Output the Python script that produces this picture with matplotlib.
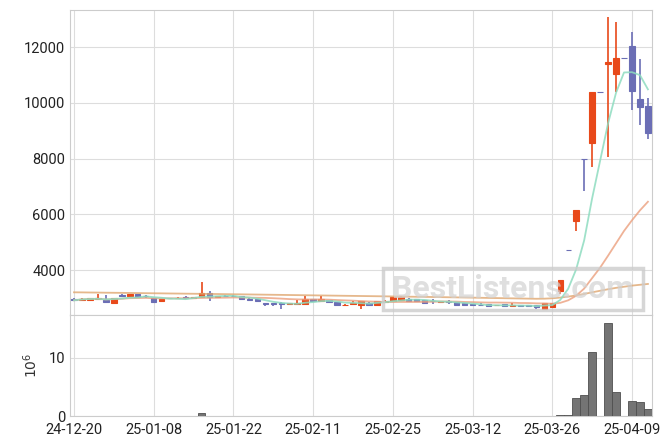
import numpy as np
import pandas as pd
import matplotlib
matplotlib.use("Agg")
from matplotlib import pyplot as plt
from matplotlib.patches import Rectangle

# trading-day labels (every 10th session)
tick_pos = [0, 10, 20, 30, 40, 50, 60, 70]
tick_labels = ["24-12-20", "25-01-08", "25-01-22", "25-02-11",
               "25-02-25", "25-03-12", "25-03-26", "25-04-09"]

opens = [2975, 2915, 2940, 2960, 2925, 2800, 3110, 3050, 3140, 3070,
         2995, 2880, 3000, 2990, 3040, 2995, 3017, 3184, 3020, 3085,
         3085, 3065, 2970, 2945, 2825, 2800, 2800, 2765, 2780, 2777,
         2945, 2900, 2920, 2850, 2745, 2777, 2729, 2825, 2729, 2845,
         2873, 2921, 2969, 2945, 2921, 2897, 2845, 2880, 2849, 2800,
         2777, 2760, 2777, 2735, 2777, 2705, 2753, 2753, 2729, 2610,
         2690, 3230, 4730, 5770, 7980, 8550, 10370, 11400, 11050, 11620,
         12025, 10145, 9870]
highs = [2985, 2980, 3000, 3150, 3110, 3010, 3130, 3150, 3150, 3120,
         3000, 2960, 3010, 3020, 3050, 3045, 3580, 3230, 3070, 3100,
         3095, 3080, 2985, 2950, 2830, 2825, 2850, 2800, 2920, 3065,
         2960, 3065, 2935, 2855, 2765, 2875, 2900, 2835, 2880, 2920,
         3030, 3065, 2980, 2955, 2930, 2945, 2880, 2921, 2855, 2805,
         2785, 2800, 2785, 2760, 2785, 2800, 2760, 2760, 2735, 2800,
         2830, 3650, 4730, 6140, 7980, 10370, 10370, 13080, 12900, 11620,
         12540, 11580, 10180]
lows = [2905, 2905, 2930, 2930, 2840, 2790, 3040, 3045, 3020, 3010,
        2840, 2870, 2975, 2980, 2980, 2990, 3010, 2880, 3010, 3040,
        3040, 2960, 2910, 2860, 2705, 2705, 2610, 2755, 2770, 2730,
        2870, 2890, 2835, 2720, 2740, 2730, 2610, 2740, 2720, 2840,
        2860, 2873, 2890, 2870, 2820, 2777, 2840, 2777, 2745, 2725,
        2745, 2705, 2700, 2730, 2700, 2700, 2700, 2700, 2585, 2600,
        2680, 3140, 4730, 5410, 6850, 7710, 10370, 8070, 10380, 11620,
        9750, 9186, 8710]
closes = [2915, 2975, 2990, 2990, 2850, 3000, 3055, 3140, 3030, 3055,
          2845, 2950, 2985, 3010, 2985, 3040, 3184, 3017, 3065, 3050,
          3050, 2970, 2920, 2875, 2765, 2765, 2775, 2800, 2825, 2969,
          2875, 2945, 2840, 2730, 2760, 2825, 2897, 2745, 2873, 2873,
          3017, 3017, 2897, 2873, 2825, 2873, 2873, 2865, 2753, 2729,
          2753, 2750, 2705, 2745, 2705, 2753, 2705, 2705, 2657, 2800,
          2825, 3640, 4730, 6140, 7980, 10370, 10370, 11460, 11620, 11620,
          10420, 9845, 8910]
# volume in millions of shares
volumes = [0.02, 0.02, 0.02, 0.02, 0.02, 0.02, 0.02, 0.02, 0.02, 0.02,
           0.02, 0.02, 0.02, 0.02, 0.02, 0.02, 0.6, 0.05, 0.02, 0.02,
           0.02, 0.02, 0.02, 0.02, 0.02, 0.02, 0.02, 0.02, 0.02, 0.02,
           0.02, 0.02, 0.02, 0.02, 0.02, 0.02, 0.02, 0.02, 0.02, 0.02,
           0.02, 0.02, 0.02, 0.02, 0.02, 0.02, 0.02, 0.02, 0.02, 0.02,
           0.02, 0.02, 0.02, 0.02, 0.02, 0.02, 0.02, 0.02, 0.02, 0.03,
           0.04, 0.12, 0.12, 3.1, 3.6, 10.9, 0.0, 16.0, 4.1, 0.0,
           2.6, 2.4, 1.2]
# long moving average (history before the window)
ma_long = [3200, 3197, 3193, 3190, 3186, 3183, 3180, 3176, 3172, 3168,
           3165, 3162, 3158, 3155, 3151, 3148, 3145, 3141, 3138, 3134,
           3130, 3127, 3123, 3119, 3115, 3111, 3107, 3103, 3099, 3095,
           3091, 3087, 3083, 3079, 3075, 3071, 3067, 3063, 3059, 3055,
           3051, 3047, 3043, 3039, 3035, 3031, 3027, 3022, 3018, 3013,
           3008, 3003, 2998, 2993, 2988, 2983, 2978, 2973, 2968, 2972,
           2985, 3010, 3045, 3090, 3140, 3200, 3255, 3310, 3360, 3400,
           3440, 3470, 3500]

UP = "#e8491a"
DOWN = "#6b6eb5"

df = pd.DataFrame({"o": opens, "h": highs, "l": lows, "c": closes, "v": volumes})
x = np.arange(len(df))
up = df.c > df.o
col = np.where(up, UP, DOWN)
ma5 = df.c.rolling(5, min_periods=1).mean()
ma20 = df.c.rolling(20, min_periods=1).mean()

fig = plt.figure(figsize=(6.7, 4.44), dpi=100)
ax = fig.add_axes([0.1045, 0.2905, 0.8685, 0.687])
axv = fig.add_axes([0.1045, 0.063, 0.8685, 0.2275], sharex=ax)

for a in (ax, axv):
    a.grid(True, color="#dddddd", lw=0.8)
    a.set_axisbelow(True)
    for s in a.spines.values():
        s.set_color("#cccccc")
    a.tick_params(length=0, labelsize=10.5, colors="#222222")
axv.tick_params(axis="x", pad=5)

# candles
ax.vlines(x, df.l, df.h, colors=col, lw=1.2, zorder=2)
body_lo = np.minimum(df.o, df.c)
body_h = np.abs(df.c - df.o)
ax.bar(x, body_h, bottom=body_lo, width=0.68, color=col, edgecolor=col, lw=0.8, zorder=3)

# moving averages
ax.plot(x, ma_long, color="#dfa66f", lw=1.3, alpha=0.8, zorder=4)
ax.plot(x, ma20, color="#eb9f7d", lw=1.3, alpha=0.8, zorder=4)
ax.plot(x, ma5, color="#8edcc0", lw=1.3, alpha=0.85, zorder=4)

ax.set_ylim(2385, 13330)
ax.set_yticks([4000, 6000, 8000, 10000, 12000])
ax.set_xlim(-0.5, 72.5)
plt.setp(ax.get_xticklabels(), visible=False)

# volume
axv.bar(x, df.v, width=0.95, color="#747474", edgecolor="#4f4f4f", lw=0.6, zorder=3)
axv.set_ylim(0, 17.3)
axv.set_yticks([0, 10])
axv.set_xticks(tick_pos)
axv.set_xticklabels(tick_labels)
axv.set_ylabel(r"$10^6$", fontsize=10, color="#333333", labelpad=6)
for t in axv.get_xticklabels() + axv.get_yticklabels() + ax.get_yticklabels():
    t.set_fontfamily("Roboto")

# watermark
ax.add_patch(Rectangle((0.538, 0.018), 0.446, 0.137, transform=ax.transAxes,
                       fill=False, ec="#cccccc", lw=2.5, alpha=0.8, zorder=6))
ax.text(0.761, 0.084, "BestListens.com", transform=ax.transAxes, ha="center",
        va="center", fontsize=23, fontweight="bold", color="#d2d2d2", alpha=0.7,
        family="Roboto", zorder=6)

fig.savefig("out.png", dpi=100)
